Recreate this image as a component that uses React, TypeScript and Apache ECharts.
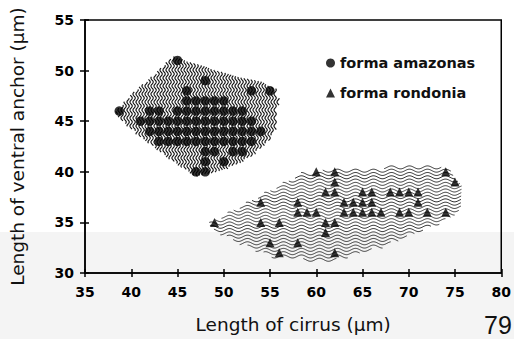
import React, { useEffect, useRef } from "react";
import * as echarts from "echarts";

const FONT = "DejaVu Sans";

// forma amazonas: [length of cirrus, length of ventral anchor]
const amazonas: number[][] = [
  [45, 51],
  [48, 49],
  [46, 48], [53, 48], [55, 48],
  [46, 47], [47, 47], [48, 47], [49, 47], [50, 47],
  [38.7, 46], [42, 46], [43, 46], [45, 46], [46, 46], [47, 46], [48, 46], [49, 46], [50, 46], [51, 46], [52, 46],
  [41, 45], [42, 45], [43, 45], [44, 45], [45, 45], [46, 45], [47, 45], [48, 45], [49, 45], [50, 45], [51, 45], [52, 45], [53, 45],
  [42, 44], [43, 44], [44, 44], [45, 44], [46, 44], [47, 44], [48, 44], [49, 44], [50, 44], [51, 44], [52, 44], [53, 44], [54, 44],
  [43, 43], [44, 43], [45, 43], [46, 43], [47, 43], [48, 43], [49, 43], [50, 43], [51, 43], [52, 43], [53, 43],
  [48, 42], [49, 42], [51, 42], [52, 42],
  [48, 41], [50, 41],
  [47, 40], [48, 40],
];

// forma rondonia
const rondonia: number[][] = [
  [60, 40], [62, 40], [74, 40],
  [62, 39], [75, 39],
  [61, 38], [62, 38], [65, 38], [66, 38], [68, 38], [69, 38], [70, 38], [71, 38],
  [54, 37], [58, 37], [63, 37], [64, 37], [65, 37], [66, 37], [71, 37],
  [58, 36], [59, 36], [60, 36], [63, 36], [64, 36], [65, 36], [66, 36], [67, 36], [69, 36], [70, 36], [72, 36], [74, 36],
  [49, 35], [54, 35], [56, 35], [61, 35], [62, 35],
  [61, 34],
  [55, 33], [58, 33],
  [56, 32], [62, 32],
];

// outlines of the hatched regions (data space)
const amazonasHull: number[][] = [
  [38.2, 45.8], [40.3, 47.9], [42.4, 49.5], [44.5, 51.4], [47.5, 50.5], [51.0, 49.5],
  [54.0, 48.9], [55.6, 48.2], [55.9, 47.2], [55.8, 44.6], [55.0, 43.1], [52.9, 41.4],
  [50.4, 40.3], [48.2, 39.7], [47.0, 39.5], [43.9, 41.4], [41.0, 43.4], [38.9, 45.1],
];
const rondoniaHull: number[][] = [
  [48.35, 34.85], [52.9, 37.1], [58.6, 39.9], [62.6, 40.3], [73.0, 40.6], [74.6, 40.1],
  [75.8, 38.5], [75.7, 36.4], [73.9, 35.1], [66.9, 32.5], [61.8, 31.2], [55.8, 31.4],
  [51.8, 32.9], [48.6, 34.4],
];

const xMin = 35, xMax = 80, xStep = 5;
const yMin = 30, yMax = 55, yStep = 5;

function span(pts: number[][], v: number, axis: number): [number, number] | null {
  const o = 1 - axis;
  let lo = Infinity, hi = -Infinity;
  for (let i = 0; i < pts.length; i++) {
    const a = pts[i], b = pts[(i + 1) % pts.length];
    if ((a[axis] - v) * (b[axis] - v) <= 0 && a[axis] !== b[axis]) {
      const t = (v - a[axis]) / (b[axis] - a[axis]);
      const w = a[o] + t * (b[o] - a[o]);
      lo = Math.min(lo, w);
      hi = Math.max(hi, w);
    }
  }
  return lo < hi ? [lo, hi] : null;
}

function hatch(hull: number[][], dir: "v" | "h", spacing: number, period: number, amp: number, color: string, width: number) {
  return (_params: any, api: any) => {
    const pts = hull.map((p) => api.coord(p));
    const axis = dir === "v" ? 0 : 1;
    const vals = pts.map((p: number[]) => p[axis]);
    const v0 = Math.min(...vals), v1 = Math.max(...vals);
    const children: any[] = [];
    for (let v = v0 + spacing / 2; v < v1; v += spacing) {
      const r = span(pts, v, axis);
      if (!r) continue;
      const points: number[][] = [];
      for (let w = r[0]; w <= r[1] + 0.01; w += 1) {
        const off = v + amp * Math.sin((2 * Math.PI * w) / period);
        points.push(axis === 0 ? [off, w] : [w, off]);
      }
      if (points.length < 2) continue;
      children.push({
        type: "polyline",
        shape: { points },
        style: { stroke: color, lineWidth: width, fill: "none" },
        silent: true,
      });
    }
    return { type: "group", children };
  };
}

export default function App() {
  const ref = useRef<HTMLDivElement>(null);
  useEffect(() => {
    if (!ref.current) return;
    const chart = echarts.init(ref.current, null, { renderer: "svg" });
    const axisLine = { show: true, lineStyle: { color: "#000", width: 1.5 } };
    const labelStyle = { color: "#000", fontSize: 14, fontWeight: "bold" as const, fontFamily: FONT };
    chart.setOption({
      animation: false,
      textStyle: { fontFamily: FONT },
      grid: {
        left: 84, right: 12, top: 20, bottom: 61,
        show: true, borderColor: "#000", borderWidth: 1.5, backgroundColor: "transparent",
      },
      legend: {
        orient: "vertical",
        left: 321,
        top: 50,
        itemWidth: 9,
        itemHeight: 9,
        itemGap: 14,
        data: ["forma amazonas", "forma rondonia"],
        textStyle: { fontFamily: FONT, fontSize: 14.5, fontWeight: "bold", color: "#111", lineHeight: 16 },
      },
      xAxis: [
        {
          type: "value", min: xMin, max: xMax, interval: xStep, position: "bottom",
          splitLine: { show: false },
          axisLine,
          axisTick: { show: true, inside: false, length: 4, lineStyle: { color: "#000", width: 1.5 } },
          axisLabel: { ...labelStyle, margin: 12 },
          name: "Length of cirrus (\u03bcm)",
          nameLocation: "middle",
          nameGap: 42,
          nameTextStyle: { fontSize: 18.5, color: "#111", fontFamily: FONT },
        },
        {
          type: "value", min: xMin, max: xMax, interval: xStep, position: "bottom", offset: 0,
          splitLine: { show: false },
          axisLine: { show: false },
          axisTick: { show: true, inside: true, length: 4, lineStyle: { color: "#000", width: 1.5 } },
          axisLabel: { show: false },
        },
      ],
      yAxis: [
        {
          type: "value", min: yMin, max: yMax, interval: yStep, position: "left",
          splitLine: { show: false },
          axisLine,
          axisTick: { show: true, inside: false, length: 5, lineStyle: { color: "#000", width: 1.5 } },
          axisLabel: { ...labelStyle, margin: 11 },
          name: "Length of ventral anchor (\u03bcm)",
          nameLocation: "middle",
          nameGap: 58,
          nameTextStyle: { fontSize: 18.5, color: "#111", fontFamily: FONT },
        },
        {
          type: "value", min: yMin, max: yMax, interval: yStep, position: "left", offset: 0,
          splitLine: { show: false },
          axisLine: { show: false },
          axisTick: { show: true, inside: true, length: 4, lineStyle: { color: "#000", width: 1.5 } },
          axisLabel: { show: false },
        },
      ],
      graphic: [
        {
          type: "rect", left: 0, top: 232, z: -100,
          shape: { width: 514, height: 107 },
          style: { fill: "#f4f4f4" },
          silent: true,
        },
        {
          type: "text", left: 484, top: 312,
          style: { text: "79", fontSize: 25, lineHeight: 25, fontFamily: "Liberation Sans", fill: "#111" },
        },
      ],
      series: [
        {
          type: "custom", name: "amazonas-region", coordinateSystem: "cartesian2d",
          xAxisIndex: 0, yAxisIndex: 0, z: 1, silent: true, clip: false,
          data: [amazonasHull[0]],
          renderItem: hatch(amazonasHull, "v", 3, 8, 1.2, "#151515", 1.15),
        },
        {
          type: "custom", name: "rondonia-region", coordinateSystem: "cartesian2d",
          xAxisIndex: 0, yAxisIndex: 0, z: 1, silent: true, clip: false,
          data: [rondoniaHull[0]],
          renderItem: hatch(rondoniaHull, "h", 3.3, 18, 1.5, "#2a2a2a", 0.95),
        },
        {
          type: "scatter", name: "forma amazonas", data: amazonas, symbol: "circle",
          symbolSize: 9.5, itemStyle: { color: "#000" }, z: 5,
        },
        {
          type: "scatter", name: "forma rondonia", data: rondonia, symbol: "triangle",
          symbolSize: 9, itemStyle: { color: "#000" }, z: 5,
        },
      ],
    });
    return () => chart.dispose();
  }, []);
  return <div ref={ref} style={{ width: 514, height: 339, position: "absolute", left: 0, top: 0 }} />;
}
